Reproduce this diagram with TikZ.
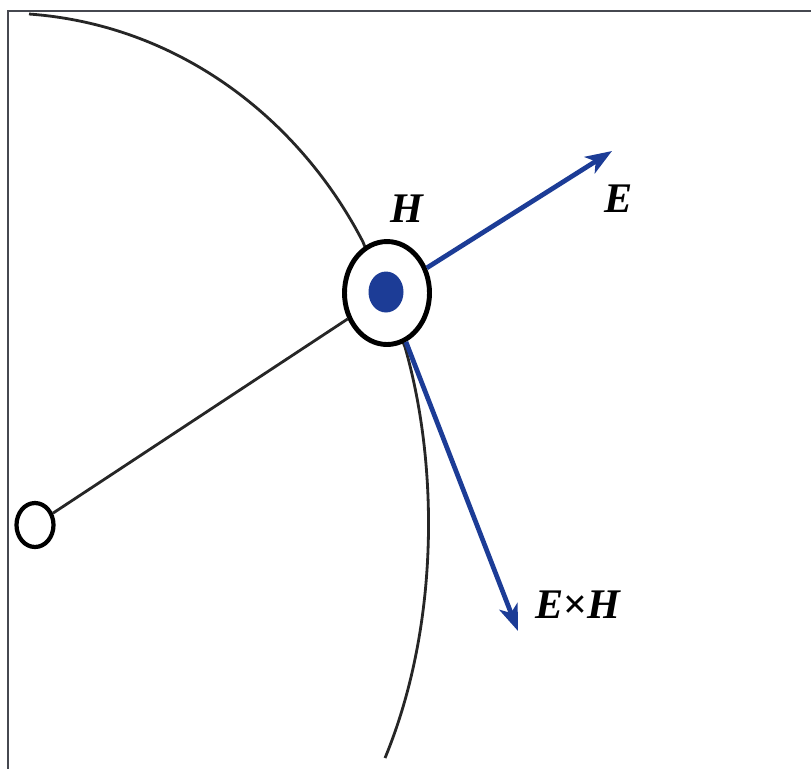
\documentclass[tikz,border=0pt]{standalone}
\usepackage{fontspec}
\setmainfont{Liberation Serif}
\usetikzlibrary{shapes.geometric,arrows.meta}
\definecolor{vecblue}{RGB}{28,60,150}
\definecolor{framegray}{RGB}{70,72,80}
\begin{document}
\begin{tikzpicture}[x=0.02cm, y=-0.02cm,
  front/.style = {draw, ellipse, inner sep=0pt, fill=white},
  wire/.style = {line width=1.6pt, black!85},
  vec/.style = {line width=2.7pt, vecblue,
    -{Stealth[length=15pt, width=11pt, inset=4pt]}},
  lbl/.style = {font=\fontsize{24}{28}\selectfont\bfseries\itshape}]
  \useasboundingbox (0,0) rectangle (811,769);
  \draw[framegray, line width=1.5pt] (811,11) -| (8,769);
  \draw[wire] (29,14) .. controls (180,25) and (300,120) .. (363,242)
    -- (405,347) .. controls (440,470) and (438,630) .. (385,758);
  \node[front, line width=2.8pt, minimum width=1.7cm, minimum height=2.06cm]
    (hnode) at (387,293) {};
  \node[ellipse, fill=vecblue, inner sep=0pt,
    minimum width=0.7cm, minimum height=0.82cm] (dot) at (386,292) {};
  \node[front, line width=2.4pt, minimum width=0.74cm, minimum height=0.88cm]
    (src) at (35,525) {};
  \coordinate (etip) at (612,151);
  \coordinate (stip) at (518,631);
  \draw[wire] (src) -- (hnode);
  \draw[vec] (hnode) -- (etip);
  \draw[vec] (hnode) -- (stip);
  \node[lbl] (hlabel) at (407,209) {H};
  \node[lbl] (elabel) at (619,199) {E};
  \node[lbl] (eh) at (578,605) {E{\normalfont\bfseries ×}H};
\end{tikzpicture}
\end{document}
